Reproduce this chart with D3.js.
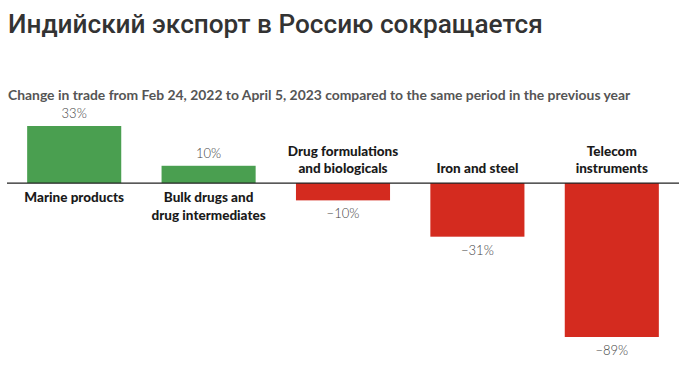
<!DOCTYPE html>
<html><head><meta charset="utf-8">
<script src="https://cdn.jsdelivr.net/npm/d3@7"></script>
<style>body{margin:0;background:#fff}svg{display:block}</style>
</head><body>
<svg id="c" width="700" height="368"></svg>
<script>
const title = "Индийский экспорт в Россию сокращается";
const subtitle = "Change in trade from Feb 24, 2022 to April 5, 2023 compared to the same period in the previous year";
const categories = ["Marine products", "Bulk drugs and drug intermediates", "Drug formulations and biologicals", "Iron and steel", "Telecom instruments"];
const labelLines = [["Marine products"], ["Bulk drugs and", "drug intermediates"], ["Drug formulations", "and biologicals"], ["Iron and steel"], ["Telecom", "instruments"]];
const values = [33, 10, -10, -31, -89];

const svg = d3.select("#c");
const x = d3.scaleBand().domain(categories).range([7, 679]).paddingInner(0.3).paddingOuter(0.15);
const y = d3.scaleLinear().domain([-89, 33]).range([337, 126]);

svg.append("text").attr("x", 8).attr("y", 33).text(title)
  .attr("font-family", "Roboto").attr("font-weight", 500).attr("font-size", 26.2).attr("fill", "#333");
svg.append("text").attr("x", 8).attr("y", 100).text(subtitle)
  .attr("font-family", "Lato").attr("font-weight", 700).attr("font-size", 13.9).attr("fill", "#555");

svg.selectAll("rect.bar").data(values).join("rect").attr("class", "bar")
  .attr("x", (d, i) => x(categories[i])).attr("width", x.bandwidth())
  .attr("y", d => y(Math.max(0, d))).attr("height", d => Math.abs(y(d) - y(0)))
  .attr("fill", d => d >= 0 ? "#4a9f50" : "#d42b1f");

svg.append("line").attr("x1", 7).attr("x2", 679).attr("y1", y(0)).attr("y2", y(0))
  .attr("stroke", "#222").attr("stroke-width", 1.2);

const fmt = v => (v < 0 ? "\u2212" + Math.abs(v) : v) + "%";
svg.selectAll("text.val").data(values).join("text").attr("class", "val")
  .attr("x", (d, i) => x(categories[i]) + x.bandwidth() / 2)
  .attr("y", d => d >= 0 ? y(d) - 8 : y(d) + 18)
  .attr("text-anchor", "middle").attr("font-family", "Lato").attr("font-weight", 300)
  .attr("font-size", 13).attr("fill", "#444").text(fmt);

labelLines.forEach((lines, i) => {
  const cx = x(categories[i]) + x.bandwidth() / 2;
  const pos = values[i] >= 0;
  lines.forEach((ln, j) => {
    const yy = pos ? y(0) + 19 + j * 18 : y(0) - 10 - (lines.length - 1 - j) * 17;
    svg.append("text").attr("x", cx).attr("y", yy).attr("text-anchor", "middle")
      .attr("font-family", "Lato").attr("font-weight", 900).attr("font-size", 13.5)
      .attr("fill", "#1a1a1a").text(ln);
  });
});
</script>
</body></html>
